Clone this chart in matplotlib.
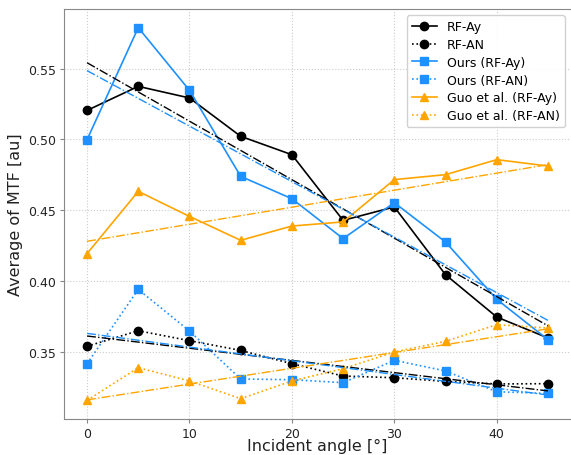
import numpy as np
import matplotlib
matplotlib.use("Agg")
import matplotlib.pyplot as plt

angles = [0, 5, 10, 15, 20, 25, 30, 35, 40, 45]

rf_ay = [0.5205, 0.5375, 0.5293, 0.5022, 0.4892, 0.4428, 0.4523, 0.4044, 0.3745, 0.3597]
rf_an = [0.3538, 0.3648, 0.3578, 0.3509, 0.3415, 0.3328, 0.3316, 0.3290, 0.3272, 0.3274]
ours_ay = [0.4998, 0.5790, 0.5347, 0.4739, 0.4581, 0.4299, 0.4553, 0.4275, 0.3870, 0.3585]
ours_an = [0.3415, 0.3940, 0.3646, 0.3307, 0.3302, 0.3281, 0.3439, 0.3364, 0.3217, 0.3205]
guo_ay = [0.4193, 0.4633, 0.4456, 0.4287, 0.4388, 0.4417, 0.4716, 0.4751, 0.4857, 0.4812]
guo_an = [0.3156, 0.3387, 0.3293, 0.3168, 0.3293, 0.3380, 0.3498, 0.3573, 0.3691, 0.3667]

series = [
	("RF-Ay", rf_ay, "black", "-", "o"),
	("RF-AN", rf_an, "black", ":", "o"),
	("Ours (RF-Ay)", ours_ay, "#1E90FF", "-", "s"),
	("Ours (RF-AN)", ours_an, "#1E90FF", ":", "s"),
	("Guo et al. (RF-Ay)", guo_ay, "#FFA500", "-", "^"),
	("Guo et al. (RF-AN)", guo_an, "#FFA500", ":", "^"),
]

fig = plt.figure(figsize=(5.71, 4.56), dpi=100)
ax = fig.add_axes([64 / 571, 36 / 456, 507 / 571, 410 / 456])

x = np.array(angles)
for label, vals, color, ls, mk in series:
	ax.plot(x, vals, color=color, ls=ls, marker=mk, ms=6, lw=1.2, label=label)

# linear fits
for label, vals, color, ls, mk in series:
	p = np.polyfit(x, vals, 1)
	ax.plot(x, np.polyval(p, x), color=color, ls="-.", lw=1.0)

ax.grid(True, ls=":", color="#cccccc", lw=0.8)
for s in ax.spines.values():
	s.set_color("#888888")
ax.spines["right"].set_visible(False)
ax.tick_params(colors="#888888", labelcolor="#222222", labelsize=9, length=3, pad=2.5)
ax.set_xticks([0, 10, 20, 30, 40])
ax.set_yticks([0.35, 0.40, 0.45, 0.50, 0.55])
ax.set_xlabel("Incident angle [°]", fontsize=11.5, color="#222222", labelpad=-1)
ax.set_ylabel("Average of MTF [au]", fontsize=11.5, color="#222222")
ax.legend(loc="upper right", fontsize=9, framealpha=0.9, labelspacing=0.38)

fig.savefig("out.png", dpi=100)
